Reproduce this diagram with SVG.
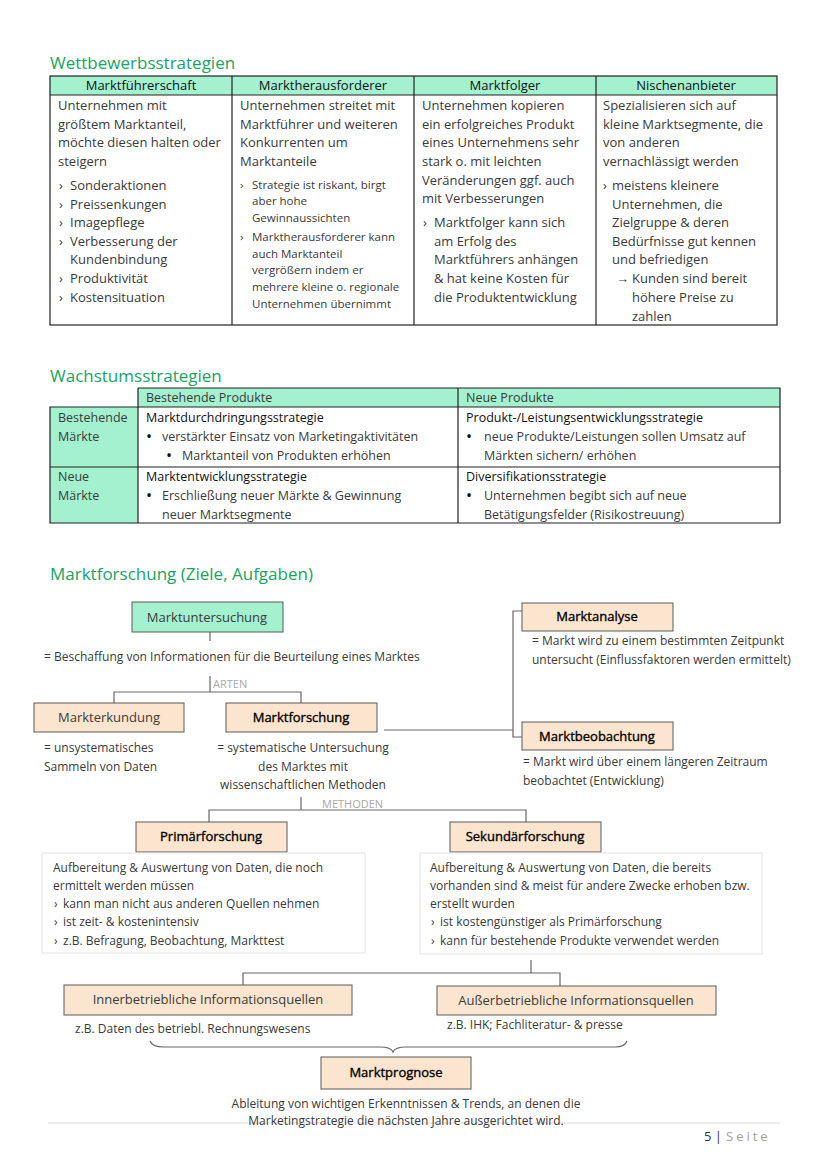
<svg xmlns="http://www.w3.org/2000/svg" width="828" height="1171" viewBox="0 0 828 1171">
<style>
text{font-family:"Open Sans","Liberation Sans",sans-serif;fill:#3a3a3a}
.h1{font-size:17px;fill:#17a463}
.b{font-size:13px}
.s{font-size:11.5px}
.t{font-size:12px}
.t5{font-size:12.5px}
.hd{font-size:13px;fill:#111}
.k{font-size:12.5px;fill:#111}
.dot{font-size:16px;fill:#111}
.lbl{font-size:13px;fill:#3a3a3a;text-anchor:middle}
.lbd{font-size:13px;fill:#000;stroke:#000;stroke-width:0.35;text-anchor:middle}
.gray{font-size:11px;fill:#a8a8a8}
.mint{fill:#a4f1cf}
.peach{fill:#fce5cf;stroke:#5a5a5a;stroke-width:1}
.node-mint{fill:#a4f1cf;stroke:#5a5a5a;stroke-width:1}
.grid{stroke:#222;stroke-width:1.2;fill:none}
.con{stroke:#666;stroke-width:1.2;fill:none}
.tbox{fill:#fff;stroke:#e2e2e2;stroke-width:1}
</style>

<!-- Section 1 -->
<g id="wettbewerb">
<text class="h1" x="50" y="69">Wettbewerbsstrategien</text>
<rect class="mint" x="50" y="76" width="727" height="19"/>
<rect class="grid" x="50" y="76" width="727" height="249"/>
<line class="grid" x1="50" y1="95" x2="777" y2="95"/>
<line class="grid" x1="232" y1="76" x2="232" y2="325"/>
<line class="grid" x1="414" y1="76" x2="414" y2="325"/>
<line class="grid" x1="596" y1="76" x2="596" y2="325"/>
<text class="hd" x="141" y="90" text-anchor="middle">Marktführerschaft</text>
<text class="hd" x="323" y="90" text-anchor="middle">Marktherausforderer</text>
<text class="hd" x="505" y="90" text-anchor="middle">Marktfolger</text>
<text class="hd" x="686" y="90" text-anchor="middle">Nischenanbieter</text>

<g class="b">
<text x="58" y="110">Unternehmen mit</text>
<text x="58" y="129">größtem Marktanteil,</text>
<text x="58" y="147">möchte diesen halten oder</text>
<text x="58" y="166">steigern</text>
<text x="59" y="190">›</text><text x="70" y="190">Sonderaktionen</text>
<text x="59" y="209">›</text><text x="70" y="209">Preissenkungen</text>
<text x="59" y="227">›</text><text x="70" y="227">Imagepflege</text>
<text x="59" y="246">›</text><text x="70" y="246">Verbesserung der</text>
<text x="70" y="264">Kundenbindung</text>
<text x="59" y="283">›</text><text x="70" y="283">Produktivität</text>
<text x="59" y="302">›</text><text x="70" y="302">Kostensituation</text>

<text x="240" y="110">Unternehmen streitet mit</text>
<text x="240" y="129">Marktführer und weiteren</text>
<text x="240" y="147">Konkurrenten um</text>
<text x="240" y="166">Marktanteile</text>
</g>
<g class="s">
<text x="240" y="189">›</text><text x="252" y="189">Strategie ist riskant, birgt</text>
<text x="252" y="205">aber hohe</text>
<text x="252" y="222">Gewinnaussichten</text>
<text x="240" y="241">›</text><text x="252" y="241">Marktherausforderer kann</text>
<text x="252" y="258">auch Marktanteil</text>
<text x="252" y="274">vergrößern indem er</text>
<text x="252" y="291">mehrere kleine o. regionale</text>
<text x="252" y="308">Unternehmen übernimmt</text>
</g>
<g class="b">
<text x="422" y="110">Unternehmen kopieren</text>
<text x="422" y="129">ein erfolgreiches Produkt</text>
<text x="422" y="147">eines Unternehmens sehr</text>
<text x="422" y="166">stark o. mit leichten</text>
<text x="422" y="185">Veränderungen ggf. auch</text>
<text x="422" y="203">mit Verbesserungen</text>
<text x="423" y="227">›</text><text x="434" y="227">Marktfolger kann sich</text>
<text x="434" y="246">am Erfolg des</text>
<text x="434" y="264">Marktführers anhängen</text>
<text x="434" y="283">&amp; hat keine Kosten für</text>
<text x="434" y="302">die Produktentwicklung</text>

<text x="603" y="110">Spezialisieren sich auf</text>
<text x="603" y="129">kleine Marktsegmente, die</text>
<text x="603" y="147">von anderen</text>
<text x="603" y="166">vernachlässigt werden</text>
<text x="603" y="190">›</text><text x="612" y="190">meistens kleinere</text>
<text x="612" y="209">Unternehmen, die</text>
<text x="612" y="227">Zielgruppe &amp; deren</text>
<text x="612" y="246">Bedürfnisse gut kennen</text>
<text x="612" y="264">und befriedigen</text>
<text x="616" y="283">→</text><text x="632" y="283">Kunden sind bereit</text>
<text x="632" y="302">höhere Preise zu</text>
<text x="632" y="321">zahlen</text>
</g>
</g>

<!-- Section 2 -->
<g id="wachstum">
<text class="h1" x="50" y="382">Wachstumsstrategien</text>
<rect class="mint" x="138" y="388" width="642" height="19"/>
<rect class="mint" x="50" y="407" width="88" height="116"/>
<path class="grid" d="M138 388H780V523H50V407H780M138 388V523M458 388V523M50 467H780"/>
<text class="t5" x="146" y="402">Bestehende Produkte</text>
<text class="t5" x="466" y="402">Neue Produkte</text>
<text class="t5" x="58" y="422">Bestehende</text>
<text class="t5" x="58" y="441">Märkte</text>
<text class="t5" x="58" y="481">Neue</text>
<text class="t5" x="58" y="500">Märkte</text>

<text class="k" x="146" y="422">Marktdurchdringungsstrategie</text>
<text class="dot" x="146" y="442">•</text><text class="t5" x="162" y="441">verstärkter Einsatz von Marketingaktivitäten</text>
<text class="dot" x="166" y="461">•</text><text class="t5" x="182" y="460">Marktanteil von Produkten erhöhen</text>
<text class="k" x="146" y="481">Marktentwicklungsstrategie</text>
<text class="dot" x="146" y="501">•</text><text class="t5" x="162" y="500">Erschließung neuer Märkte &amp; Gewinnung</text>
<text class="t5" x="162" y="519">neuer Marktsegmente</text>

<text class="k" x="466" y="422">Produkt-/Leistungsentwicklungsstrategie</text>
<text class="dot" x="466" y="442">•</text><text class="t5" x="484" y="441">neue Produkte/Leistungen sollen Umsatz auf</text>
<text class="t5" x="484" y="460">Märkten sichern/ erhöhen</text>
<text class="k" x="466" y="481">Diversifikationsstrategie</text>
<text class="dot" x="466" y="501">•</text><text class="t5" x="484" y="500">Unternehmen begibt sich auf neue</text>
<text class="t5" x="484" y="519">Betätigungsfelder (Risikostreuung)</text>
</g>

<!-- Section 3 -->
<text class="h1" x="50" y="580">Marktforschung (Ziele, Aufgaben)</text>

<g id="connectors">
<line class="con" x1="210" y1="632" x2="210" y2="641"/>
<path class="con" d="M210 676V692M114 704V692H301V704"/>
<path class="con" d="M384 730H513M522 611H513V737H522"/>
<path class="con" d="M301 797V810M209 822V810H526V822"/>
<path class="con" d="M531 960V973M243 986V973H560V986"/>
<path class="con" d="M150 1041Q152 1047 164 1047H380Q391 1047 393 1052Q395 1047 406 1047H615Q625 1047 627 1041"/>
<line x1="48" y1="1123" x2="780" y2="1123" stroke="#dcdcdc" stroke-width="1.2"/>
</g>
<text class="gray" x="213" y="688">ARTEN</text>
<text class="gray" x="322" y="808">METHODEN</text>

<g id="marktuntersuchung">
<rect class="node-mint" x="132" y="602" width="151" height="30"/>
<text class="lbl" x="207" y="622">Marktuntersuchung</text>
<text class="t" x="44" y="661">= Beschaffung von Informationen für die Beurteilung eines Marktes</text>
</g>
<g id="markterkundung">
<rect class="peach" x="34" y="703" width="150" height="29"/>
<text class="lbl" x="109" y="722">Markterkundung</text>
<text class="t" x="44" y="752">= unsystematisches</text>
<text class="t" x="44" y="771">Sammeln von Daten</text>
</g>
<g id="marktforschung">
<rect class="peach" x="226" y="703" width="151" height="29"/>
<text class="lbd" x="301" y="722">Marktforschung</text>
<text class="t" x="303" y="752" text-anchor="middle">= systematische Untersuchung</text>
<text class="t" x="303" y="771" text-anchor="middle">des Marktes mit</text>
<text class="t" x="303" y="789" text-anchor="middle">wissenschaftlichen Methoden</text>
</g>
<g id="marktanalyse">
<rect class="peach" x="522" y="603" width="151" height="28"/>
<text class="lbd" x="597" y="621">Marktanalyse</text>
<text class="t" x="532" y="645">= Markt wird zu einem bestimmten Zeitpunkt</text>
<text class="t" x="532" y="664">untersucht (Einflussfaktoren werden ermittelt)</text>
</g>
<g id="marktbeobachtung">
<rect class="peach" x="522" y="722" width="151" height="28"/>
<text class="lbd" x="597" y="741">Marktbeobachtung</text>
<text class="t" x="523" y="766">= Markt wird über einem längeren Zeitraum</text>
<text class="t" x="523" y="785">beobachtet (Entwicklung)</text>
</g>
<g id="primaerforschung">
<rect class="peach" x="136" y="822" width="151" height="30"/>
<text class="lbd" x="211" y="841">Primärforschung</text>
<rect class="tbox" x="42" y="853" width="323" height="100"/>
<text class="t" x="53" y="872">Aufbereitung &amp; Auswertung von Daten, die noch</text>
<text class="t" x="53" y="890">ermittelt werden müssen</text>
<text class="t" x="54" y="908">›</text><text class="t" x="63" y="908">kann man nicht aus anderen Quellen nehmen</text>
<text class="t" x="54" y="926">›</text><text class="t" x="63" y="926">ist zeit- &amp; kostenintensiv</text>
<text class="t" x="54" y="945">›</text><text class="t" x="63" y="945">z.B. Befragung, Beobachtung, Markttest</text>
</g>
<g id="sekundaerforschung">
<rect class="peach" x="450" y="822" width="151" height="30"/>
<text class="lbd" x="525" y="841">Sekundärforschung</text>
<rect class="tbox" x="420" y="853" width="342" height="101"/>
<text class="t" x="430" y="872">Aufbereitung &amp; Auswertung von Daten, die bereits</text>
<text class="t" x="430" y="890">vorhanden sind &amp; meist für andere Zwecke erhoben bzw.</text>
<text class="t" x="430" y="908">erstellt wurden</text>
<text class="t" x="431" y="926">›</text><text class="t" x="440" y="926">ist kostengünstiger als Primärforschung</text>
<text class="t" x="431" y="945">›</text><text class="t" x="440" y="945">kann für bestehende Produkte verwendet werden</text>
</g>
<g id="innerbetrieblich">
<rect class="peach" x="64" y="985" width="288" height="30"/>
<text class="lbl" x="208" y="1004">Innerbetriebliche Informationsquellen</text>
<text class="t" x="75" y="1033">z.B. Daten des betriebl. Rechnungswesens</text>
</g>
<g id="ausserbetrieblich">
<rect class="peach" x="437" y="986" width="279" height="29"/>
<text class="lbl" x="576" y="1005">Außerbetriebliche Informationsquellen</text>
<text class="t" x="447" y="1029">z.B. IHK; Fachliteratur- &amp; presse</text>
</g>
<g id="marktprognose">
<rect class="peach" x="321" y="1057" width="150" height="32"/>
<text class="lbd" x="396" y="1077">Marktprognose</text>
<text class="t" x="406" y="1108" text-anchor="middle">Ableitung von wichtigen Erkenntnissen &amp; Trends, an denen die</text>
<text class="t" x="406" y="1125" text-anchor="middle">Marketingstrategie die nächsten Jahre ausgerichtet wird.</text>
</g>
<g id="footer">
<text x="704" y="1141" style="font-size:13px;fill:#333">5 |</text>
<text x="726" y="1141" style="font-size:13px;fill:#a0a0a0;letter-spacing:3px">Seite</text>
</g>
</svg>
